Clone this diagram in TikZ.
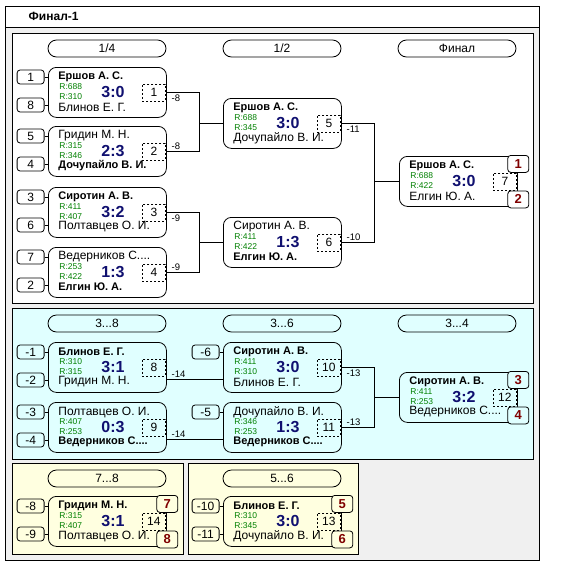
\documentclass[tikz,border=0pt]{standalone}
\usepackage{fontspec}
\setmainfont{Liberation Sans}
\definecolor{bggray}{RGB}{240,240,240}
\definecolor{cyanbg}{RGB}{224,255,255}
\definecolor{yellowbg}{RGB}{255,255,224}
\definecolor{rgreen}{RGB}{0,128,0}
\definecolor{snavy}{RGB}{16,16,112}
\definecolor{pred}{RGB}{128,0,0}
\tikzset{
	mbox/.style={draw, rounded corners=8pt, minimum width=118pt, minimum height=50pt, anchor=north west, inner sep=0pt},
	pl/.style={anchor=west, inner sep=0pt, font=\fontsize{12}{12}\selectfont},
	pw/.style={anchor=west, inner sep=0pt, font=\fontsize{11}{12}\selectfont\bfseries},
	rat/.style={anchor=west, inner sep=0pt, text=rgreen, font=\fontsize{8.5}{9}\selectfont},
	score/.style={inner sep=0pt, text=snavy, font=\fontsize{16}{16}\selectfont\bfseries},
	mno/.style={draw, dash pattern=on 2pt off 2pt, minimum width=23pt, minimum height=17pt, inner sep=0pt, font=\fontsize{12}{12}\selectfont},
	seed/.style={draw, rounded corners=3pt, minimum width=27pt, minimum height=14pt, inner sep=0pt, font=\fontsize{12}{12}\selectfont},
	badge/.style={draw, rounded corners=3pt, minimum width=21pt, minimum height=17pt, inner sep=0pt, text=pred, font=\fontsize{13}{13}\selectfont\bfseries},
	pill/.style={draw, rounded corners=8.5pt, minimum width=118pt, minimum height=17pt, inner sep=0pt, font=\fontsize{12}{12}\selectfont},
	lbl/.style={inner sep=1.5pt, font=\fontsize{9.5}{10}\selectfont},
}
\def\Ved{Ведерников С....}
\begin{document}
\begin{tikzpicture}[x=1pt, y=-1pt, line width=0.8pt]
			\useasboundingbox (0,0) rectangle (571,563);
			% frame and panels
			\draw[fill=bggray] (5,6) rectangle (539,560);
			\draw[fill=white] (5,6) rectangle (539,27);
			\node[anchor=west, font=\fontsize{12}{12}\selectfont\bfseries] (title) at (25,16.5) {Финал-1};
			\draw[fill=white] (12,33) rectangle (533,303);
			\draw[fill=cyanbg] (12,308) rectangle (533,459);
			\draw[fill=yellowbg] (12,463) rectangle (183,554);
			\draw[fill=yellowbg] (188,463) rectangle (358,554);
			%
			\node[pill] (h1) at (107,48.5)  {1/4};
			\node[pill] (h2) at (282,48.5)  {1/2};
			\node[pill] (h3) at (457,48.5)  {Финал};
			\node[pill] (h4) at (107,323.5) {3...8};
			\node[pill] (h5) at (282,323.5) {3...6};
			\node[pill] (h6) at (457,323.5) {3...4};
			\node[pill] (h7) at (107,478.5) {7...8};
			\node[pill] (h8) at (282,478.5) {5...6};
			%
			\def\matches {1/48/67/Ершов А. С./pw/688/Блинов Е. Г./pl/310/3:0,
				2/48/126/Гридин М. Н./pl/315/Дочупайло В. И./pw/346/2:3,
				3/48/187/Сиротин А. В./pw/411/Полтавцев О. И./pl/407/3:2,
				4/48/247/\Ved/pl/253/Елгин Ю. А./pw/422/1:3,
				5/223/98/Ершов А. С./pw/688/Дочупайло В. И./pl/345/3:0,
				6/223/217/Сиротин А. В./pl/411/Елгин Ю. А./pw/422/1:3,
				7/399/156/Ершов А. С./pw/688/Елгин Ю. А./pl/422/3:0,
				8/48/342/Блинов Е. Г./pw/310/Гридин М. Н./pl/315/3:1,
				9/48/402/Полтавцев О. И./pl/407/\Ved/pw/253/0:3,
				10/223/342/Сиротин А. В./pw/411/Блинов Е. Г./pl/310/3:0,
				11/223/402/Дочупайло В. И./pl/346/\Ved/pw/253/1:3,
				12/399/372/Сиротин А. В./pw/411/\Ved/pl/253/3:2,
				13/223/496/Блинов Е. Г./pw/310/Дочупайло В. И./pl/345/3:0,
				14/48/496/Гридин М. Н./pw/315/Полтавцев О. И./pl/407/3:1}  % match boxes
			\foreach \k/\x/\y/\pa/\wa/\ra/\pb/\wb/\rb/\sc in \matches
			{	\node[mbox] (m\k) at (\x,\y) {};
				\node[\wa] (m\k-a) at ([xshift=10pt, yshift=-10pt]m\k.north west) {\pa};
				\node[rat] (m\k-ra) at ([xshift=11pt, yshift=-20pt]m\k.north west) {R:\ra};
				\node[rat] (m\k-rb) at ([xshift=11pt, yshift=-30pt]m\k.north west) {R:\rb};
				\node[\wb] (m\k-b) at ([xshift=10pt, yshift=-40pt]m\k.north west) {\pb};
				\node[score] (m\k-sc) at ([xshift=65pt, yshift=-25pt]m\k.north west) {\sc};
				\node[mno, anchor=east] (m\k-no) at ([xshift=-1pt]m\k.east) {\k};
			}
			%
			\def\seeds {m1/1/10/1, m1/2/38/8, m2/1/10/5, m2/2/38/4, m3/1/10/3, m3/2/38/6, m4/1/10/7, m4/2/38/2,
				m8/1/10/-1, m8/2/38/-2, m9/1/10/-3, m9/2/38/-4, m10/1/10/-6, m11/1/10/-5,
				m14/1/10/-8, m14/2/38/-9, m13/1/10/-10, m13/2/38/-11}  % seed boxes
			\foreach \m/\i/\dy/\s in \seeds
			{	\node[seed, anchor=east] (\m-s\i) at ([xshift=-3.5pt, yshift=-\dy]\m.north west) {\s};
				\draw (\m-s\i.east) -- (\m-s\i.east -| \m.west);
			}
			%
			\foreach \m/\s/\c in {m7/1/white, m12/3/cyanbg, m14/7/yellowbg, m13/5/yellowbg}
			{	\node[badge, fill=\c, anchor=north] (\m-p1) at ([xshift=0.5pt, yshift=1pt]\m.north east) {\s};
			}
			\foreach \m/\s/\c in {m7/2/white, m12/4/cyanbg, m14/8/yellowbg, m13/6/yellowbg}
			{	\node[badge, fill=\c, anchor=south] (\m-p2) at ([xshift=0.5pt, yshift=-1.5pt]\m.south east) {\s};
			}
			%
			\def\lower {m1/m5/-8/1, m3/m6/-9/3, m5/m7/-11/5, m10/m12/-13/10}  % label below
			\foreach \u/\v/\l/\k in \lower
			{	\draw (\u.east) -- ++(33,0) node[lbl, pos=0, anchor=north west, xshift=3pt, yshift=-1pt] (l\k) {\l} |- (\v.west);
			}
			\def\upper {m2/m5/-8/2, m4/m6/-9/4, m6/m7/-10/6, m11/m12/-13/11}  % label above
			\foreach \u/\v/\l/\k in \upper
			{	\draw (\u.east) -- ++(33,0) node[lbl, pos=0, anchor=south west, xshift=3pt] (l\k) {\l} |- (\v.west);
			}
			\coordinate (m10-in) at ([yshift=-12pt]m10.west);
			\coordinate (m11-in) at ([yshift=-12pt]m11.west);
			\draw (m10-in -| m8.east) -- (m10-in) node[lbl, pos=0, anchor=south west, xshift=3pt] (l8) {-14};
			\draw (m11-in -| m9.east) -- (m11-in) node[lbl, pos=0, anchor=south west, xshift=3pt] (l9) {-14};
			%
		\end{tikzpicture}
\end{document}
